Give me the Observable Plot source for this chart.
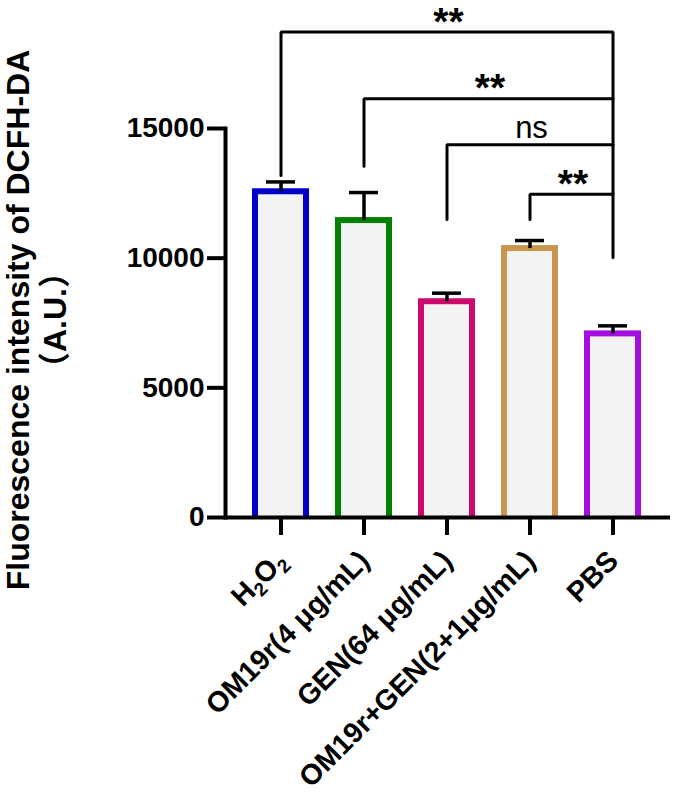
<!DOCTYPE html>
<html><head><meta charset="utf-8">
<script src="https://cdn.jsdelivr.net/npm/d3@7"></script>
<script src="https://cdn.jsdelivr.net/npm/@observablehq/plot@0.6"></script>
<style>
html,body{margin:0;padding:0;background:#fff;}
#chart svg{display:block;}
</style></head><body><div id="chart"></div>
<script>
// ---- data ----
const categories = ["H2O2", "OM19r(4 μg/mL)", "GEN(64 μg/mL)", "OM19r+GEN(2+1μg/mL)", "PBS"];
const means = [12560, 11450, 8320, 10370, 7080];
const upperErrors = [12940, 12530, 8650, 10680, 7390];
const barColors = ["#0000c8", "#008000", "#cc0a6c", "#c8964f", "#a50ddf"];
const yTicks = [0, 5000, 10000, 15000];
const yTitle = "Fluorescence intensity of DCFH-DA\n（A.U.）";

const bracketFrom = ["H2O2", "OM19r(4 μg/mL)", "GEN(64 μg/mL)", "OM19r+GEN(2+1μg/mL)"];
const bracketTo = "PBS";
const bracketLevels = [18720, 16150, 14370, 12460];
const bracketLeftEnds = [13190, 13540, 11490, 11490];
const bracketRightEnd = 10030;
const bracketLabels = ["**", "**", "ns", "**"];

// ---- tables for the library ----
const data = categories.map((c, i) => ({category: c, mean: means[i], upper: upperErrors[i]}));
const bracketPoints = [];
bracketFrom.forEach((from, i) => {
  bracketPoints.push({x: from, y: bracketLeftEnds[i], z: i});
  bracketPoints.push({x: from, y: bracketLevels[i], z: i});
  bracketPoints.push({x: bracketTo, y: bracketLevels[i], z: i});
  if (i === 0) bracketPoints.push({x: bracketTo, y: bracketRightEnd, z: i});
});

function bracketLabelMark(index, scales) {
  const x = scales.x, y = scales.y;
  const bw = x.bandwidth ? x.bandwidth() : 0;
  const g = d3.create("svg:g");
  bracketFrom.forEach((from, i) => {
    const cx = (x(from) + x(bracketTo)) / 2 + bw / 2 + 2;
    const cy = y(bracketLevels[i]);
    const isNs = bracketLabels[i] === "ns";
    g.append("text")
      .attr("x", cx)
      .attr("y", cy + (isNs ? -6 : 3))
      .attr("text-anchor", "middle")
      .attr("font-size", isNs ? 31 : 39)
      .attr("font-weight", isNs ? "normal" : "bold")
      .attr("fill", "black")
      .text(bracketLabels[i]);
  });
  return g.node();
}

const chart = Plot.plot({
  width: 675,
  height: 792,
  marginTop: 128,
  marginBottom: 275,
  marginLeft: 225,
  marginRight: 5,
  style: {fontFamily: "'Liberation Sans', Arial, 'Noto Sans CJK SC', sans-serif", background: "white", overflow: "visible", color: "black"},
  x: {type: "band", domain: categories, range: [239.2, 654.2], paddingInner: 0.386, paddingOuter: 0.193, align: 0.5},
  y: {domain: [0, 15000]},
  color: {domain: categories, range: barColors},
  marks: [
    Plot.barY(data, {x: "category", y: "mean", fill: "#f3f3f3", stroke: "category", strokeWidth: 6, insetBottom: -3, clip: true}),
    Plot.ruleX(data, {x: "category", y1: "mean", y2: "upper", stroke: "black", strokeWidth: 3.5}),
    Plot.tickY(data, {x: "category", y: "upper", stroke: "black", strokeWidth: 3.5, insetLeft: 11, insetRight: 11}),
    Plot.line(bracketPoints, {x: "x", y: "y", z: "z", stroke: "black", strokeWidth: 3, strokeLinejoin: "miter"}),
    Plot.ruleY([0], {stroke: "black", strokeWidth: 4}),
    Plot.frame({anchor: "left", stroke: "black", strokeWidth: 4}),
    Plot.axisY({ticks: yTicks, tickSize: 18, tickPadding: 3, strokeWidth: 4, fontSize: 28, fontWeight: "bold", label: null, tickFormat: d => String(d)}),
    Plot.axisX({tickSize: 18, strokeWidth: 4, tickFormat: () => "", label: null}),
    Plot.text(categories, {x: d => d, text: d => d, frameAnchor: "bottom", rotate: -45, textAnchor: "end", lineAnchor: "bottom", dx: 7, dy: 45, fontSize: 28.5, fontWeight: "bold", fill: "black"}),
    Plot.text([yTitle], {text: d => d, frameAnchor: "left", textAnchor: "middle", lineAnchor: "middle", rotate: -90, dx: -190, dy: -3, fontSize: 32, fontWeight: "bold", lineHeight: 1.15, fill: "black"}),
    bracketLabelMark
  ]
});

// subscripts for H2O2
chart.querySelectorAll("text").forEach(t => {
  if (t.textContent === "H2O2") {
    while (t.firstChild) t.removeChild(t.firstChild);
    const parts = [["H", 0, 28.5], ["2", 6, 19], ["O", -6, 28.5], ["2", 6, 19]];
    parts.forEach(([s, dy, fs]) => {
      const ts = document.createElementNS("http://www.w3.org/2000/svg", "tspan");
      if (dy) ts.setAttribute("dy", dy);
      ts.setAttribute("font-size", fs);
      ts.textContent = s;
      t.appendChild(ts);
    });
  }
});

document.getElementById("chart").appendChild(chart);
</script>
</body></html>
